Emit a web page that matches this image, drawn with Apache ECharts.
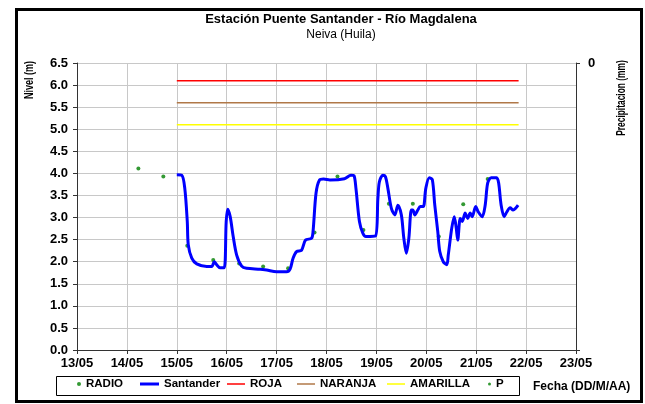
<!DOCTYPE html>
<html>
<head>
<meta charset="utf-8">
<script src="https://cdn.jsdelivr.net/npm/echarts@6/dist/echarts.min.js"></script>
<style>html,body{margin:0;padding:0;background:#fff;}#c{width:645px;height:404px;}</style>
</head>
<body>
<div id="c"></div>
<script>
// ---- data ----
var xTickLabels = ['13/05','14/05','15/05','16/05','17/05','18/05','19/05','20/05','21/05','22/05','23/05'];
var yTickLabels = ['0.0','0.5','1.0','1.5','2.0','2.5','3.0','3.5','4.0','4.5','5.0','5.5','6.0','6.5'];
var santanderDays = [15.00,15.10,15.16,15.21,15.23,15.30,15.40,15.60,15.70,15.75,15.80,15.87,15.95,15.99,16.02,16.07,16.13,16.20,16.30,16.40,16.67,16.80,17.00,17.20,17.27,17.33,17.40,17.50,17.58,17.70,17.73,17.79,17.86,17.94,18.07,18.36,18.49,18.55,18.59,18.66,18.73,18.79,18.98,19.03,19.06,19.13,19.18,19.23,19.30,19.37,19.43,19.50,19.55,19.60,19.65,19.70,19.73,19.77,19.83,19.88,19.94,19.99,20.06,20.12,20.17,20.23,20.27,20.34,20.41,20.44,20.51,20.56,20.60,20.63,20.68,20.72,20.78,20.83,20.88,20.92,20.99,21.04,21.12,21.18,21.23,21.30,21.41,21.45,21.50,21.56,21.61,21.68,21.74,21.79,21.84];
var santanderLevels = [3.97,3.96,3.66,2.91,2.38,2.08,1.95,1.89,1.89,2.00,1.93,1.86,1.86,2.91,3.19,3.02,2.57,2.15,1.90,1.85,1.83,1.81,1.77,1.77,1.83,2.08,2.23,2.26,2.49,2.53,2.68,3.55,3.85,3.87,3.85,3.88,3.96,3.95,3.66,2.91,2.64,2.57,2.58,3.44,3.81,3.96,3.93,3.66,3.21,3.06,3.28,3.06,2.53,2.19,2.53,3.17,3.17,3.06,3.17,3.25,3.25,3.66,3.90,3.86,3.28,2.68,2.23,2.00,1.93,2.15,2.76,3.02,2.76,2.49,2.98,2.91,3.10,2.98,3.10,3.02,3.25,3.13,3.02,3.28,3.78,3.90,3.90,3.78,3.28,3.02,3.12,3.22,3.17,3.21,3.28];
var radioDays = [14.23,14.73,15.21,15.73,16.25,16.73,17.23,17.76,18.22,18.74,19.25,19.73,20.25,20.74,21.23];
var radioLevels = [4.11,3.93,2.36,2.04,1.96,1.89,1.85,2.66,3.93,2.72,3.31,3.31,2.57,3.30,3.87];
var thresholdStart = 15.0;
var thresholdEnd = 21.85;
var rojaLevel = 6.1;
var naranjaLevel = 5.6;
var amarillaLevel = 5.1;
var precipDays = [];
var precipValues = [];

// ---- build ----
function pairs(xs, ys){ return xs.map(function(x,i){ return [x, ys[i]]; }); }
var FONT = '"Liberation Sans", Arial, sans-serif';
var chart = echarts.init(document.getElementById('c'), null, {renderer:'canvas'});
var axisLineStyle = {color:'#333', width:1};
function legendItem(name, left, icon, w, h){
  return {data:[{name:name, icon:icon}], left:left, top:378, padding:0, itemWidth:w, itemHeight:h,
    textStyle:{fontFamily:FONT, fontWeight:'bold', fontSize:11.5, color:'#000'}, selectedMode:false};
}
var option = {
  backgroundColor:'#fff',
  animation:false,
  title:{
    text:'Estación Puente Santander - Río Magdalena',
    subtext:'Neiva (Huila)',
    left:341, top:13, textAlign:'center', itemGap:3, padding:0,
    textStyle:{fontFamily:FONT, fontWeight:'bold', fontSize:13, color:'#000'},
    subtextStyle:{fontFamily:FONT, fontSize:12, color:'#000'}
  },
  grid:{left:77, right:69, top:63, bottom:54, containLabel:false},
  xAxis:{
    type:'value', min:13, max:23, interval:1,
    axisLine:{show:true, lineStyle:axisLineStyle},
    axisTick:{show:true, inside:false, length:4, lineStyle:axisLineStyle},
    axisLabel:{fontFamily:FONT, fontWeight:'bold', fontSize:13, color:'#000', margin:7,
      formatter:function(v){ return xTickLabels[Math.round(v-13)]; }},
    splitLine:{show:true, lineStyle:{color:'#c8c8c8', width:1}}
  },
  yAxis:[{
    type:'value', min:0, max:6.5, interval:0.5,
    axisLine:{show:true, lineStyle:axisLineStyle},
    axisTick:{show:true, length:4, lineStyle:axisLineStyle},
    axisLabel:{fontFamily:FONT, fontWeight:'bold', fontSize:13, color:'#000', margin:9,
      formatter:function(v){ return yTickLabels[Math.round(v*2)]; }},
    splitLine:{show:true, lineStyle:{color:'#c8c8c8', width:1}}
  },{
    type:'value', position:'right', min:0, max:10, interval:10, inverse:true,
    axisLine:{show:true, lineStyle:axisLineStyle},
    axisTick:{show:true, length:4, lineStyle:axisLineStyle},
    axisLabel:{fontFamily:FONT, fontWeight:'bold', fontSize:13, color:'#000', margin:12,
      formatter:function(v){ return v===0 ? '0' : ''; }},
    splitLine:{show:false}
  }],
  legend:[
    legendItem('RADIO', 77, 'circle', 4, 4),
    legendItem('Santander', 140, 'rect', 19, 3),
    legendItem('ROJA', 227, 'rect', 18, 1.5),
    legendItem('NARANJA', 297, 'rect', 18, 1.5),
    legendItem('AMARILLA', 387, 'rect', 18, 1.5),
    legendItem('P', 488, 'circle', 3, 3)
  ],
  graphic:[
    {type:'rect', shape:{x:16.5, y:9.5, width:625, height:392}, style:{fill:null, stroke:'#000', lineWidth:3}, silent:true},
    {type:'rect', shape:{x:56.5, y:376.5, width:463, height:19}, style:{fill:null, stroke:'#000', lineWidth:1}, silent:true},
    {type:'text', x:533, y:387, style:{text:'Fecha (DD/M/AA)', font:'bold 12px '+FONT, fill:'#000', textVerticalAlign:'middle'}},
    {type:'text', x:30, y:80, rotation:Math.PI/2, scaleX:0.75, style:{text:'Nivel (m)', font:'bold 12px '+FONT, fill:'#000', textAlign:'center', textVerticalAlign:'middle'}},
    {type:'text', x:622, y:98, rotation:Math.PI/2, scaleX:0.7, style:{text:'Precipitacion (mm)', font:'bold 12px '+FONT, fill:'#000', textAlign:'center', textVerticalAlign:'middle'}}
  ],
  series:[
    {name:'RADIO', type:'scatter', data:pairs(radioDays, radioLevels), symbol:'circle', symbolSize:4,
      itemStyle:{color:'#008000'}, z:1},
    {name:'Santander', type:'line', data:pairs(santanderDays, santanderLevels), showSymbol:false, smooth:0.3,
      lineStyle:{color:'#0000ff', width:3}, itemStyle:{color:'#0000ff'}, z:2},
    {name:'ROJA', type:'line', data:[[thresholdStart, rojaLevel],[thresholdEnd, rojaLevel]], showSymbol:false,
      lineStyle:{color:'#ff0000', width:1.5}, itemStyle:{color:'#ff0000'}, z:2},
    {name:'NARANJA', type:'line', data:[[thresholdStart, naranjaLevel],[thresholdEnd, naranjaLevel]], showSymbol:false,
      lineStyle:{color:'#b07848', width:1.5}, itemStyle:{color:'#b07848'}, z:2},
    {name:'AMARILLA', type:'line', data:[[thresholdStart, amarillaLevel],[thresholdEnd, amarillaLevel]], showSymbol:false,
      lineStyle:{color:'#ffff00', width:1.5}, itemStyle:{color:'#ffff00'}, z:2},
    {name:'P', type:'scatter', yAxisIndex:1, data:pairs(precipDays, precipValues), symbolSize:3,
      itemStyle:{color:'#008000'}, z:1}
  ]
};
chart.setOption(option);
</script>
</body>
</html>
